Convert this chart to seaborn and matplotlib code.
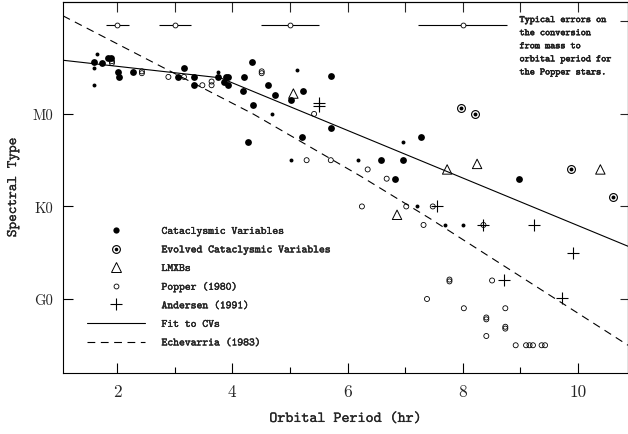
import matplotlib
matplotlib.use('Agg')
import matplotlib.pyplot as plt
import matplotlib.patheffects as pe
from matplotlib.lines import Line2D
import seaborn as sns

# ---------------------------------------------------------------------------
# data  (y: G0 = 0, K0 = 1, M0 = 2)
# ---------------------------------------------------------------------------
cv_big_x = [1.59, 1.73, 1.85, 1.89, 2.02, 2.04, 2.28, 3.05, 3.16, 3.33, 3.33,
            3.76, 3.89, 3.93, 3.86, 3.93, 4.21, 4.18, 4.35, 4.36, 4.27, 4.62,
            4.74, 5.02, 5.22, 5.71, 5.71, 5.21, 6.58, 6.96, 6.83, 7.28, 8.98]
cv_big_y = [2.56, 2.55, 2.60, 2.60, 2.45, 2.40, 2.45, 2.40, 2.50, 2.40, 2.31,
            2.40, 2.40, 2.40, 2.34, 2.31, 2.40, 2.25, 2.56, 2.10, 1.70, 2.31,
            2.20, 2.15, 2.25, 2.41, 1.85, 1.75, 1.50, 1.50, 1.30, 1.75, 1.30]

cv_small_x = [1.65, 1.59, 1.59, 3.76, 5.12, 4.69, 5.02, 6.18, 6.96, 7.20, 7.69, 8.00]
cv_small_y = [2.65, 2.50, 2.31, 2.45, 2.48, 2.00, 1.50, 1.50, 1.70, 1.00, 0.80, 0.80]

evolved_x = [7.97, 8.22, 9.88, 10.61]
evolved_y = [2.06, 2.00, 1.40, 1.10]

lmxb_x = [5.06, 7.73, 8.25, 10.39, 6.86]
lmxb_y = [2.22, 1.40, 1.46, 1.40, 0.91]

popper_x = [1.91, 1.91, 2.43, 2.43, 2.89, 3.16, 3.48, 3.64, 3.64, 4.51, 4.51,
            5.42, 5.29, 5.71, 6.35, 6.68, 6.25, 7.02, 7.48, 7.32, 8.36, 7.77,
            7.77, 8.51, 7.38, 8.02, 8.74, 8.41, 8.41, 8.74, 8.74, 8.41, 8.92,
            9.10, 9.16, 9.22, 9.37, 9.43]
popper_y = [2.57, 2.55, 2.46, 2.44, 2.40, 2.40, 2.31, 2.35, 2.31, 2.46, 2.44,
            2.00, 1.50, 1.50, 1.40, 1.30, 1.00, 1.00, 1.00, 0.80, 0.80, 0.21,
            0.19, 0.20, 0.00, -0.10, -0.10, -0.20, -0.22, -0.30, -0.32, -0.40,
            -0.50, -0.50, -0.50, -0.50, -0.50, -0.50]

andersen_x = [5.51, 5.51, 7.56, 8.36, 9.24, 9.92, 8.71, 9.72]
andersen_y = [2.12, 2.09, 1.00, 0.80, 0.80, 0.50, 0.20, 0.01]

# fit to CVs and Echevarria (1983) relation
fit_x = [1.06, 3.79, 10.87]
fit_y = [2.58, 2.39, 0.57]
echev_x = [1.06, 4.36, 6.22, 7.43, 10.87]
echev_y = [3.06, 2.00, 1.33, 0.87, -0.50]

# typical errors (Popper stars)
err_x = [2, 3, 5, 8]
err_y = [2.96, 2.96, 2.96, 2.96]
err_dx = [0.2, 0.28, 0.5, 0.77]

x_ticks = [2, 4, 6, 8, 10]
x_minor = [3, 5, 7, 9]
y_ticks = [0, 1, 2]
y_labels = ['G0', 'K0', 'M0']

legend_labels = ['Cataclysmic Variables', 'Evolved Cataclysmic Variables', 'LMXBs',
                 'Popper (1980)', 'Andersen (1991)', 'Fit to CVs', 'Echevarria (1983)']

# ---------------------------------------------------------------------------
sns.set_style('ticks')
plt.rcParams['font.family'] = ['cmtt10', 'DejaVu Sans']
plt.rcParams['axes.formatter.use_mathtext'] = True
plt.rcParams['axes.edgecolor'] = 'black'
plt.rcParams['axes.linewidth'] = 0.8


def stroke(w):
    return [pe.withStroke(linewidth=w, foreground='black')]


fig = plt.figure(figsize=(6.28, 4.35), dpi=100)
ax = fig.add_axes([0.1003, 0.1402, 0.8997, 0.853])

dash = (0, (7, 5))
sns.lineplot(x=fit_x, y=fit_y, ax=ax, color='black', lw=0.8, estimator=None, sort=False)
sns.lineplot(x=echev_x, y=echev_y, ax=ax, color='black', lw=0.8, linestyle=dash,
             estimator=None, sort=False)

sns.scatterplot(x=cv_big_x, y=cv_big_y, ax=ax, s=24, color='black', linewidth=0, zorder=3)
sns.scatterplot(x=cv_small_x, y=cv_small_y, ax=ax, s=8, color='black', linewidth=0, zorder=3)
sns.scatterplot(x=evolved_x, y=evolved_y, ax=ax, s=32, color='black', facecolor='white',
                edgecolor='black', linewidth=0.8, zorder=3)
sns.scatterplot(x=evolved_x, y=evolved_y, ax=ax, s=8, color='black', linewidth=0, zorder=4)
sns.scatterplot(x=lmxb_x, y=lmxb_y, ax=ax, s=46, marker='^', color='black', facecolor='none',
                edgecolor='black', linewidth=0.7, zorder=3)
sns.scatterplot(x=popper_x, y=popper_y, ax=ax, s=13, color='black', facecolor='none',
                edgecolor='black', linewidth=0.6, zorder=3)
sns.scatterplot(x=andersen_x, y=andersen_y, ax=ax, s=75, marker='+', color='black',
                linewidth=0.8, zorder=3)

ax.errorbar(err_x, err_y, xerr=err_dx, fmt='o', ms=3.5, mfc='white', mec='black', mew=0.6,
            ecolor='black', elinewidth=0.8, capsize=0, zorder=3)

ax.set_xlim(1.06, 10.87)
ax.set_ylim(-0.8, 3.21)

ax.set_xticks(x_ticks, labels=[str(t) for t in x_ticks], fontfamily='cmr10', fontsize=12.5)
ax.set_xticks(x_minor, minor=True)
ax.set_yticks(y_ticks, labels=y_labels, fontfamily='cmr10', fontsize=10.5)
ax.tick_params(which='major', direction='in', length=7, width=0.8, color='black')
ax.tick_params(which='minor', direction='in', length=4, width=0.8, color='black')
ax.tick_params(axis='x', pad=8)
ax.tick_params(axis='y', pad=7)

sec_x = ax.secondary_xaxis('top')
sec_x.set_xticks(range(2, 11))
sec_x.tick_params(direction='in', length=7, width=0.8, labeltop=False)
sec_y = ax.secondary_yaxis('right')
sec_y.set_yticks([0, 1, 2, 3])
sec_y.tick_params(direction='in', length=6, width=0.8, labelright=False)

ax.set_xlabel('Orbital Period (hr)', fontsize=11, labelpad=9, path_effects=stroke(0.15))
ax.set_ylabel('Spectral Type', fontsize=10.5, labelpad=9, path_effects=stroke(0.15))

ax.text(0.808, 0.962, 'Typical errors on\nthe conversion\nfrom mass to\norbital period for\nthe Popper stars.',
        transform=ax.transAxes, ha='left', va='top', fontsize=7, linespacing=1.85,
        path_effects=stroke(0.35))

# legend
h_cv = Line2D([], [], ls='none', marker='o', color='black', ms=4.5, mew=0)
h_ev = (Line2D([], [], ls='none', marker='o', mfc='white', mec='black', ms=5.6, mew=0.8),
        Line2D([], [], ls='none', marker='o', color='black', ms=2.6, mew=0))
h_lm = Line2D([], [], ls='none', marker='^', mfc='none', mec='black', ms=7, mew=0.7)
h_po = Line2D([], [], ls='none', marker='o', mfc='none', mec='black', ms=3.5, mew=0.6)
h_an = Line2D([], [], ls='none', marker='+', color='black', ms=8, mew=0.8)
h_fit = Line2D([], [], color='black', lw=0.8)
h_ec = Line2D([], [], color='black', lw=0.8, ls=dash)
leg = ax.legend([h_cv, h_ev, h_lm, h_po, h_an, h_fit, h_ec], legend_labels,
                loc='upper left', bbox_to_anchor=(0.0426, 0.396), frameon=False,
                prop={'family': 'cmtt10', 'size': 8}, handlelength=5.2, handletextpad=1.5,
                labelspacing=0.7, borderpad=0, borderaxespad=0)
for t in leg.get_texts():
    t.set_path_effects(stroke(0.25))

fig.savefig('out.png', dpi=100)
